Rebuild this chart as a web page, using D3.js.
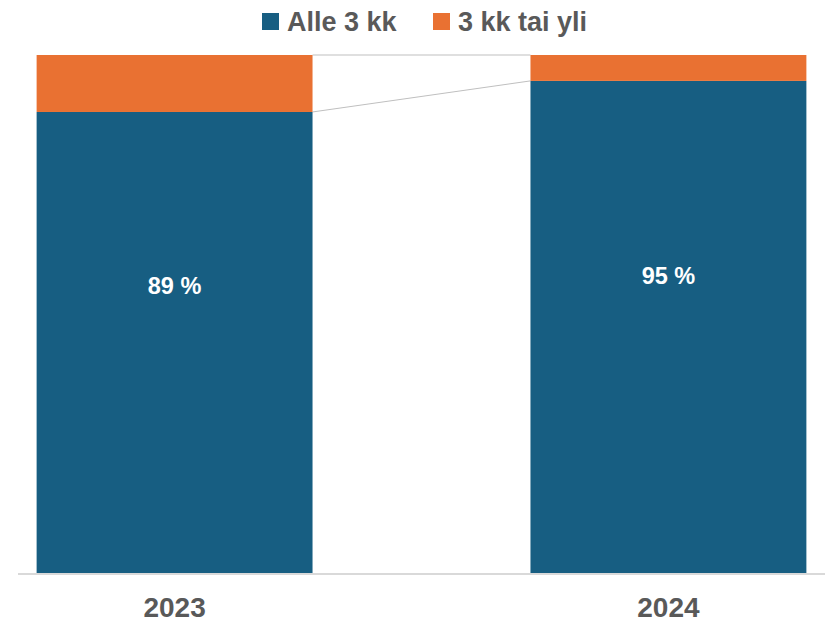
<!DOCTYPE html>
<html>
<head>
<meta charset="utf-8">
<title>Alle 3 kk</title>
<style>
body { margin: 0; background: #fff; }
.legend text { font-family: "Liberation Sans", Arial, sans-serif; font-weight: bold; fill: #595959; font-size: 27px; }
.xlab { font-family: "Liberation Sans", Arial, sans-serif; font-weight: bold; fill: #595959; font-size: 28px; }
.val { font-family: "Liberation Sans", Arial, sans-serif; font-weight: bold; fill: #fff; font-size: 23.5px; }
</style>
</head>
<body>
<script src="https://d3js.org/d3.v7.min.js"></script>
<script>

var years = ["2023", "2024"];
var alle3kk = [89, 95];
var yli3kk = [11, 5];
var seriesNames = ["Alle 3 kk", "3 kk tai yli"];
var colors = ["#175E82", "#E97132"];

var width = 825, height = 624;
var top_y = 55, bottom_y = 573;

var svg = d3.select("body").append("svg")
  .attr("width", width)
  .attr("height", height);

var x = d3.scaleBand().domain(years).range([18, 825])
  .paddingInner(0.4413).paddingOuter(0.0377);
var y = d3.scaleLinear().domain([0, 100]).range([bottom_y, top_y]);

// axis line
svg.append("line")
  .attr("x1", 18).attr("x2", 825)
  .attr("y1", y(0) + 1).attr("y2", y(0) + 1)
  .attr("stroke", "#d9d9d9").attr("stroke-width", 2);

var data = years.map(function(yr, i) {
  return { year: yr, a: alle3kk[i], b: yli3kk[i] };
});

// series lines between bars
var lineA = [[x(years[0]) + x.bandwidth(), y(alle3kk[0])], [x(years[1]), y(alle3kk[1])]];
var lineB = [[x(years[0]) + x.bandwidth(), y(alle3kk[0] + yli3kk[0])], [x(years[1]), y(alle3kk[1] + yli3kk[1])]];
[lineA, lineB].forEach(function(l) {
  svg.append("path").attr("d", d3.line()(l))
    .attr("stroke", "#bfbfbf").attr("stroke-width", 1).attr("fill", "none");
});

// bars
svg.selectAll(".barA").data(data).enter().append("rect")
  .attr("x", function(d) { return x(d.year); })
  .attr("width", x.bandwidth())
  .attr("y", function(d) { return y(d.a); })
  .attr("height", function(d) { return y(0) - y(d.a); })
  .attr("fill", colors[0]);

svg.selectAll(".barB").data(data).enter().append("rect")
  .attr("x", function(d) { return x(d.year); })
  .attr("width", x.bandwidth())
  .attr("y", function(d) { return y(d.a + d.b); })
  .attr("height", function(d) { return y(d.a) - y(d.a + d.b); })
  .attr("fill", colors[1]);

// value labels
svg.selectAll(".val").data(data).enter().append("text")
  .attr("class", "val")
  .attr("x", function(d) { return x(d.year) + x.bandwidth() / 2; })
  .attr("y", function(d) { return y(d.a) + (y(0) - y(d.a)) * 0.677 - 130; })
  .attr("text-anchor", "middle")
  .text(function(d) { return d.a + " %"; });

// x labels
svg.selectAll(".xlab").data(years).enter().append("text")
  .attr("class", "xlab")
  .attr("x", function(d) { return x(d) + x.bandwidth() / 2; })
  .attr("y", 617)
  .attr("text-anchor", "middle")
  .text(function(d) { return d; });

// legend
var legend = svg.append("g").attr("class", "legend");
var legX = [262, 433];
seriesNames.forEach(function(n, i) {
  legend.append("rect").attr("x", legX[i]).attr("y", 13)
    .attr("width", 17).attr("height", 17).attr("fill", colors[i]);
  legend.append("text").attr("x", legX[i] + 25).attr("y", 31).text(n);
});

</script>
</body>
</html>
